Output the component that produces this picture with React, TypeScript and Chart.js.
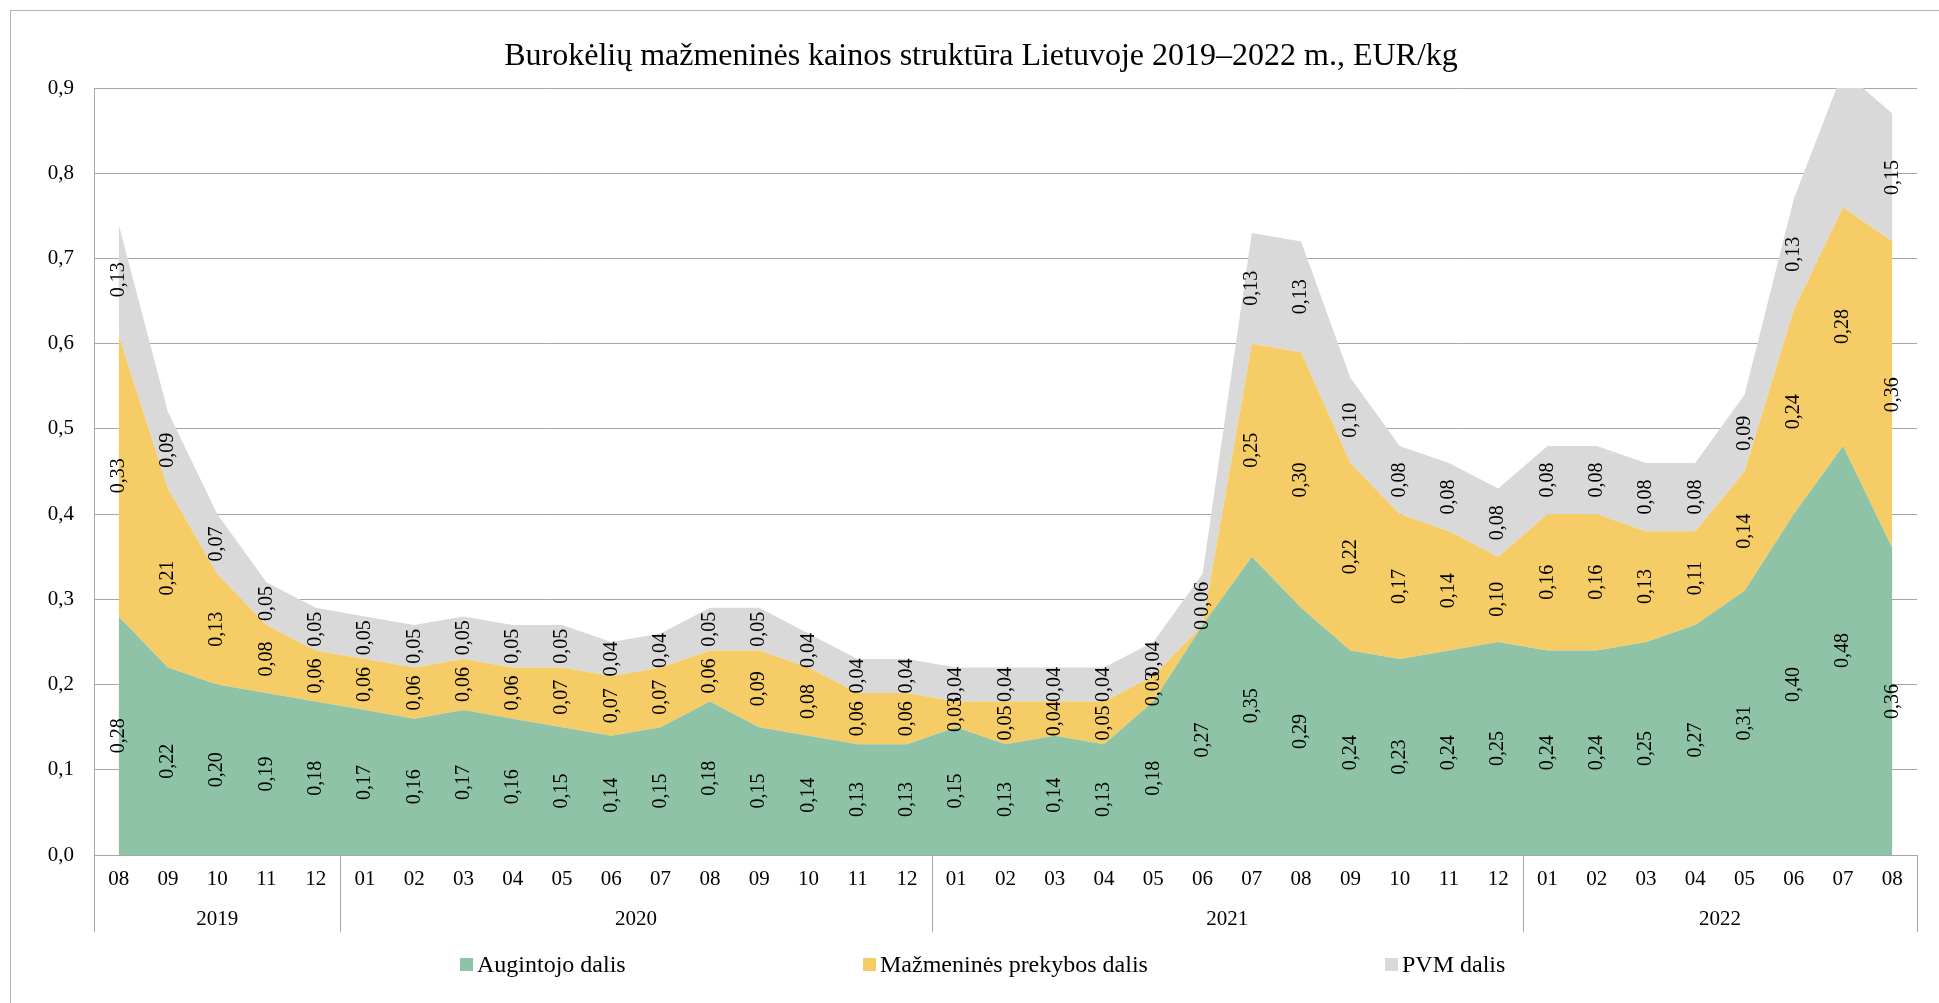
import React, { useEffect, useRef } from 'react';
import { Chart, registerables } from 'chart.js';

Chart.register(...registerables);

const FONT = '"Liberation Serif", "Times New Roman", Times, serif';

const chartTitle = 'Burokėlių mažmeninės kainos struktūra Lietuvoje 2019–2022 m., EUR/kg';

const months = [
  '08', '09', '10', '11', '12',
  '01', '02', '03', '04', '05', '06', '07', '08', '09', '10', '11', '12',
  '01', '02', '03', '04', '05', '06', '07', '08', '09', '10', '11', '12',
  '01', '02', '03', '04', '05', '06', '07', '08',
];

const yearLabels = ['2019', '2020', '2021', '2022'];
const yearMonthCounts = [5, 12, 12, 8];

const seriesNames = ['Augintojo dalis', 'Mažmeninės prekybos dalis', 'PVM dalis'];
const seriesColors = ['#8EC3A7', '#F5CC66', '#D9D9D9'];

const growerShare = [
  0.28, 0.22, 0.20, 0.19, 0.18,
  0.17, 0.16, 0.17, 0.16, 0.15, 0.14, 0.15, 0.18, 0.15, 0.14, 0.13, 0.13,
  0.15, 0.13, 0.14, 0.13, 0.18, 0.27, 0.35, 0.29, 0.24, 0.23, 0.24, 0.25,
  0.24, 0.24, 0.25, 0.27, 0.31, 0.40, 0.48, 0.36,
];

const retailShare = [
  0.33, 0.21, 0.13, 0.08, 0.06,
  0.06, 0.06, 0.06, 0.06, 0.07, 0.07, 0.07, 0.06, 0.09, 0.08, 0.06, 0.06,
  0.03, 0.05, 0.04, 0.05, 0.03, 0.00, 0.25, 0.30, 0.22, 0.17, 0.14, 0.10,
  0.16, 0.16, 0.13, 0.11, 0.14, 0.24, 0.28, 0.36,
];

const vatShare = [
  0.13, 0.09, 0.07, 0.05, 0.05,
  0.05, 0.05, 0.05, 0.05, 0.05, 0.04, 0.04, 0.05, 0.05, 0.04, 0.04, 0.04,
  0.04, 0.04, 0.04, 0.04, 0.04, 0.06, 0.13, 0.13, 0.10, 0.08, 0.08, 0.08,
  0.08, 0.08, 0.08, 0.08, 0.09, 0.13, 0.16, 0.15,
];

const yMin = 0;
const yMax = 0.9;
const yStep = 0.1;

const GRID = '#A6A6A6';

const fmtLabel = (v: number) => (v === 0 ? '0' : v.toFixed(2).replace('.', ','));

const overlayPlugin = {
  id: 'overlay',
  afterDatasetsDraw(chart: any) {
    const ctx = chart.ctx;
    const y = chart.scales.y;
    ctx.save();
    ctx.font = `20px ${FONT}`;
    ctx.fillStyle = '#000';
    ctx.textAlign = 'center';
    ctx.textBaseline = 'middle';
    chart.data.datasets.forEach((ds: any, i: number) => {
      const meta = chart.getDatasetMeta(i);
      meta.data.forEach((pt: any, j: number) => {
        let cum = 0;
        for (let k = 0; k <= i; k++) cum += chart.data.datasets[k].data[j];
        if (cum > y.max + 1e-9) return;
        const top = pt.y;
        const bottom = i === 0 ? y.getPixelForValue(0) : chart.getDatasetMeta(i - 1).data[j].y;
        const cy = (top + bottom) / 2;
        ctx.save();
        ctx.translate(pt.x, cy);
        ctx.rotate(-Math.PI / 2);
        ctx.fillText(fmtLabel(ds.data[j]), 0, 0);
        ctx.restore();
      });
    });
    ctx.restore();
  },
  afterDraw(chart: any) {
    const ctx = chart.ctx;
    const x = chart.scales.x;
    const area = chart.chartArea;
    ctx.save();

    // outer border
    ctx.strokeStyle = '#B4B4B4';
    ctx.lineWidth = 1;
    ctx.strokeRect(10.5, 10.5, 1960, 1040);

    // category group separators and year labels
    ctx.strokeStyle = GRID;
    ctx.lineWidth = 1;
    const sepBottom = 932;
    let idx = 0;
    const bounds: number[] = [x.left];
    yearMonthCounts.forEach((c, yi) => {
      const first = idx;
      const last = idx + c - 1;
      idx += c;
      if (idx < months.length) {
        bounds.push((x.getPixelForValue(last) + x.getPixelForValue(idx)) / 2);
      }
      const cx = (x.getPixelForValue(first) + x.getPixelForValue(last)) / 2;
      ctx.font = `21px ${FONT}`;
      ctx.fillStyle = '#000';
      ctx.textAlign = 'center';
      ctx.textBaseline = 'alphabetic';
      ctx.fillText(yearLabels[yi], cx, 925);
    });
    bounds.push(x.right);
    bounds.forEach((bx) => {
      const px = Math.round(bx) + 0.5;
      ctx.beginPath();
      ctx.moveTo(px, area.bottom);
      ctx.lineTo(px, sepBottom);
      ctx.stroke();
    });

    // title
    ctx.font = `32px ${FONT}`;
    ctx.fillStyle = '#000';
    ctx.textAlign = 'center';
    ctx.textBaseline = 'alphabetic';
    ctx.fillText(chartTitle, 981, 65);

    // legend
    const boxX = [460, 863, 1385];
    ctx.font = `24px ${FONT}`;
    ctx.textAlign = 'left';
    seriesNames.forEach((name, i) => {
      ctx.fillStyle = seriesColors[i];
      ctx.fillRect(boxX[i], 958, 13, 13);
      ctx.fillStyle = '#000';
      ctx.fillText(name, boxX[i] + 17, 972);
    });

    ctx.restore();
  },
};

export default function App() {
  const canvasRef = useRef<HTMLCanvasElement | null>(null);

  useEffect(() => {
    const canvas = canvasRef.current;
    if (!canvas) return;
    const mk = (label: string, data: number[], color: string, fill: any) => ({
      label,
      data,
      backgroundColor: color,
      borderColor: 'rgba(0,0,0,0)',
      borderWidth: 0,
      pointRadius: 0,
      pointHoverRadius: 0,
      tension: 0,
      fill,
    });
    const chart = new Chart(canvas, {
      type: 'line',
      data: {
        labels: months,
        datasets: [
          mk(seriesNames[0], growerShare, seriesColors[0], 'origin'),
          mk(seriesNames[1], retailShare, seriesColors[1], '-1'),
          mk(seriesNames[2], vatShare, seriesColors[2], '-1'),
        ],
      },
      options: {
        responsive: false,
        animation: false,
        events: [],
        layout: { padding: { top: 88, right: 22, left: 0, bottom: 0 } },
        plugins: {
          legend: { display: false },
          title: { display: false },
          tooltip: { enabled: false },
        },
        scales: {
          x: {
            type: 'category',
            offset: true,
            grid: { display: false, drawTicks: false },
            border: { display: true, color: GRID, width: 1 },
            ticks: {
              color: '#000',
              font: { family: FONT, size: 21 },
              padding: 12,
              maxRotation: 0,
              autoSkip: false,
            },
            afterFit: (s: any) => {
              s.height = 148;
            },
          },
          y: {
            stacked: true,
            min: yMin,
            max: yMax,
            grid: { color: GRID, lineWidth: 1, drawTicks: false },
            border: { display: true, color: GRID, width: 1 },
            ticks: {
              stepSize: yStep,
              color: '#000',
              font: { family: FONT, size: 21 },
              padding: 20,
              callback: (v: any) => Number(v).toFixed(1).replace('.', ','),
            },
            afterFit: (s: any) => {
              s.width = 94;
            },
          },
        },
      },
      plugins: [overlayPlugin],
    });
    return () => chart.destroy();
  }, []);

  return (
    <div style={{ position: 'absolute', left: 0, top: 0, width: 1939, height: 1003, background: '#fff' }}>
      <canvas ref={canvasRef} width={1939} height={1003} style={{ display: 'block' }} />
    </div>
  );
}
